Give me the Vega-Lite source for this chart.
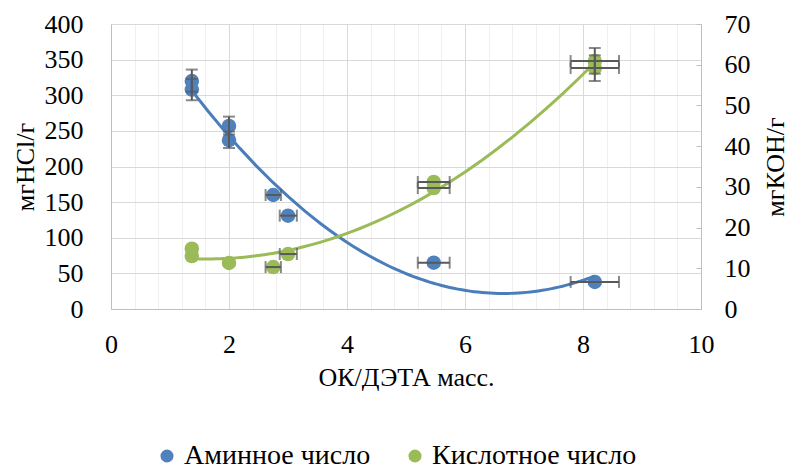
{
  "$schema": "https://vega.github.io/schema/vega-lite/v6.json",
  "width": 590,
  "height": 285,
  "autosize": {"type": "none"},
  "padding": {"left": 111, "top": 24, "right": 92, "bottom": 161},
  "config": {
    "font": "Liberation Serif, Times New Roman, serif",
    "view": {"stroke": null}
  },
  "datasets": {
    "pts": [
      {"x": 1.37, "y": 320, "s": "Аминное число"},
      {"x": 1.37, "y": 308, "s": "Аминное число"},
      {"x": 2.0, "y": 257, "s": "Аминное число"},
      {"x": 2.0, "y": 237, "s": "Аминное число"},
      {"x": 2.75, "y": 160, "s": "Аминное число"},
      {"x": 3.0, "y": 131, "s": "Аминное число"},
      {"x": 5.47, "y": 65, "s": "Аминное число"},
      {"x": 8.2, "y": 38, "s": "Аминное число"},
      {"x": 1.37, "y": 14.8, "s": "Кислотное число"},
      {"x": 1.37, "y": 13.0, "s": "Кислотное число"},
      {"x": 2.0, "y": 11.3, "s": "Кислотное число"},
      {"x": 2.75, "y": 10.3, "s": "Кислотное число"},
      {"x": 3.0, "y": 13.5, "s": "Кислотное число"},
      {"x": 5.47, "y": 31.2, "s": "Кислотное число"},
      {"x": 5.47, "y": 29.7, "s": "Кислотное число"},
      {"x": 8.2, "y": 60.9, "s": "Кислотное число"},
      {"x": 8.2, "y": 59.2, "s": "Кислотное число"}
    ],
    "xe": [
      {"s": "Аминное число", "y": 160, "lo": 2.62, "hi": 2.88},
      {"s": "Аминное число", "y": 131, "lo": 2.86, "hi": 3.15},
      {"s": "Аминное число", "y": 65, "lo": 5.2, "hi": 5.74},
      {"s": "Аминное число", "y": 38, "lo": 7.79, "hi": 8.61},
      {"s": "Кислотное число", "y": 10.3, "lo": 2.62, "hi": 2.88},
      {"s": "Кислотное число", "y": 13.5, "lo": 2.86, "hi": 3.15},
      {"s": "Кислотное число", "y": 31.2, "lo": 5.2, "hi": 5.74},
      {"s": "Кислотное число", "y": 29.7, "lo": 5.2, "hi": 5.74},
      {"s": "Кислотное число", "y": 60.9, "lo": 7.79, "hi": 8.61},
      {"s": "Кислотное число", "y": 59.2, "lo": 7.79, "hi": 8.61}
    ],
    "ye": [
      {"s": "Аминное число", "x": 1.37, "lo": 305, "hi": 336},
      {"s": "Аминное число", "x": 1.37, "lo": 293, "hi": 323},
      {"s": "Аминное число", "x": 2.0, "lo": 245, "hi": 270},
      {"s": "Аминное число", "x": 2.0, "lo": 226, "hi": 249},
      {"s": "Кислотное число", "x": 8.2, "lo": 57.8, "hi": 64.1},
      {"s": "Кислотное число", "x": 8.2, "lo": 56.0, "hi": 62.3}
    ]
  },
  "encoding": {
    "x": {
      "type": "quantitative",
      "scale": {"domain": [0, 10], "nice": false},
      "axis": {
        "title": "ОК/ДЭТА масс.",
        "values": [0, 0.4, 0.8, 1.2, 1.6, 2, 2.4, 2.8, 3.2, 3.6, 4, 4.4, 4.8, 5.2, 5.6, 6, 6.4, 6.8, 7.2, 7.6, 8, 8.4, 8.8, 9.2, 9.6, 10],
        "labelExpr": "datum.value % 2 == 0 ? format(datum.value, 'd') : ''",
        "gridColor": {"condition": {"test": "datum.value % 2 == 0", "value": "#d9d9d9"}, "value": "#efefef"},
        "grid": true,
        "ticks": false,
        "domainColor": "#bfbfbf",
        "labelFont": "Liberation Serif, Times New Roman, serif",
        "labelFontSize": 26,
        "labelColor": "#000",
        "titleFont": "Liberation Serif, Times New Roman, serif",
        "titleFontSize": 26,
        "titleFontWeight": "normal",
        "titleColor": "#000",
        "labelPadding": 22,
        "titlePadding": 7,
        "labelFlush": false
      }
    }
  },
  "layer": [
    {
      "encoding": {
        "y": {"type": "quantitative", "scale": {"domain": [0, 400], "nice": false}, "axis": {"title": "мгHCl/г", "orient": "left", "values": [0, 50, 100, 150, 200, 250, 300, 350, 400], "grid": true, "gridColor": "#d9d9d9", "domainColor": "#bfbfbf", "ticks": false, "labelFont": "Liberation Serif, Times New Roman, serif", "labelFontSize": 26, "labelColor": "#000", "titleFont": "Liberation Serif, Times New Roman, serif", "titleFontSize": 26, "titleFontWeight": "normal", "titleColor": "#000", "labelPadding": 28, "titlePadding": 6}}
      },
      "layer": [
        {
          "data": {"name": "pts"},
          "transform": [{"filter": "datum.s == 'Аминное число'"}],
          "mark": {"type": "circle", "size": 210, "opacity": 1},
          "encoding": {
            "x": {"field": "x"},
            "y": {"field": "y"},
            "color": {"field": "s", "type": "nominal", "scale": {"domain": ["Аминное число", "Кислотное число"], "range": ["#4f81bd", "#9bbb59"]}, "legend": {"title": null, "orient": "none", "legendX": 42, "legendY": 418, "direction": "horizontal", "symbolType": "circle", "symbolSize": 170, "labelFont": "Liberation Serif, Times New Roman, serif", "labelFontSize": 28, "labelColor": "#000", "labelLimit": 400, "labelOffset": 3, "columnPadding": 30, "symbolOffset": 0, "padding": 0}}
          }
        },
        {
          "data": {"name": "pts"},
          "transform": [{"filter": "datum.s == 'Аминное число'"}, {"regression": "y", "on": "x", "method": "poly", "order": 2}],
          "mark": {"type": "line", "color": "#4a7ebb", "strokeWidth": 3},
          "encoding": {"x": {"field": "x"}, "y": {"field": "y"}}
        },
        {
          "data": {"name": "xe"},
          "transform": [{"filter": "datum.s == 'Аминное число'"}],
          "mark": {"type": "rule", "color": "#595959", "strokeWidth": 2},
          "encoding": {"x": {"field": "lo"}, "x2": {"field": "hi"}, "y": {"field": "y"}}
        },
        {
          "data": {"name": "xe"},
          "transform": [{"filter": "datum.s == 'Аминное число'"}, {"fold": ["lo", "hi"], "as": ["k", "v"]}],
          "mark": {"type": "tick", "orient": "vertical", "color": "#595959", "size": 12, "thickness": 2},
          "encoding": {"x": {"field": "v"}, "y": {"field": "y"}}
        },
        {
          "data": {"name": "ye"},
          "transform": [{"filter": "datum.s == 'Аминное число'"}],
          "mark": {"type": "rule", "color": "#595959", "strokeWidth": 2},
          "encoding": {"x": {"field": "x"}, "y": {"field": "lo"}, "y2": {"field": "hi"}}
        },
        {
          "data": {"name": "ye"},
          "transform": [{"filter": "datum.s == 'Аминное число'"}, {"fold": ["lo", "hi"], "as": ["k", "v"]}],
          "mark": {"type": "tick", "orient": "horizontal", "color": "#595959", "size": 12, "thickness": 2},
          "encoding": {"x": {"field": "x"}, "y": {"field": "v"}}
        }
      ]
    },
    {
      "encoding": {
        "y": {"type": "quantitative", "scale": {"domain": [0, 70], "nice": false}, "axis": {"title": "мгКОН/г", "orient": "right", "values": [0, 10, 20, 30, 40, 50, 60, 70], "grid": false, "domainColor": "#bfbfbf", "ticks": true, "tickSize": -5, "tickColor": "#bfbfbf", "labelFont": "Liberation Serif, Times New Roman, serif", "labelFontSize": 26, "labelColor": "#000", "titleFont": "Liberation Serif, Times New Roman, serif", "titleFontSize": 26, "titleFontWeight": "normal", "titleColor": "#000", "labelPadding": 28, "titlePadding": 12, "titleAngle": 270, "titleBaseline": "top"}}
      },
      "layer": [
        {
          "data": {"name": "pts"},
          "transform": [{"filter": "datum.s == 'Кислотное число'"}],
          "mark": {"type": "circle", "size": 210, "opacity": 1},
          "encoding": {
            "x": {"field": "x"},
            "y": {"field": "y"},
            "color": {"field": "s", "type": "nominal"}
          }
        },
        {
          "data": {"name": "pts"},
          "transform": [{"filter": "datum.s == 'Кислотное число'"}, {"regression": "y", "on": "x", "method": "poly", "order": 2}],
          "mark": {"type": "line", "color": "#9bbb59", "strokeWidth": 3},
          "encoding": {"x": {"field": "x"}, "y": {"field": "y"}}
        },
        {
          "data": {"name": "xe"},
          "transform": [{"filter": "datum.s == 'Кислотное число'"}],
          "mark": {"type": "rule", "color": "#595959", "strokeWidth": 2},
          "encoding": {"x": {"field": "lo"}, "x2": {"field": "hi"}, "y": {"field": "y"}}
        },
        {
          "data": {"name": "xe"},
          "transform": [{"filter": "datum.s == 'Кислотное число'"}, {"fold": ["lo", "hi"], "as": ["k", "v"]}],
          "mark": {"type": "tick", "orient": "vertical", "color": "#595959", "size": 12, "thickness": 2},
          "encoding": {"x": {"field": "v"}, "y": {"field": "y"}}
        },
        {
          "data": {"name": "ye"},
          "transform": [{"filter": "datum.s == 'Кислотное число'"}],
          "mark": {"type": "rule", "color": "#595959", "strokeWidth": 2},
          "encoding": {"x": {"field": "x"}, "y": {"field": "lo"}, "y2": {"field": "hi"}}
        },
        {
          "data": {"name": "ye"},
          "transform": [{"filter": "datum.s == 'Кислотное число'"}, {"fold": ["lo", "hi"], "as": ["k", "v"]}],
          "mark": {"type": "tick", "orient": "horizontal", "color": "#595959", "size": 12, "thickness": 2},
          "encoding": {"x": {"field": "x"}, "y": {"field": "v"}}
        }
      ]
    }
  ],
  "resolve": {"scale": {"y": "independent"}}
}
